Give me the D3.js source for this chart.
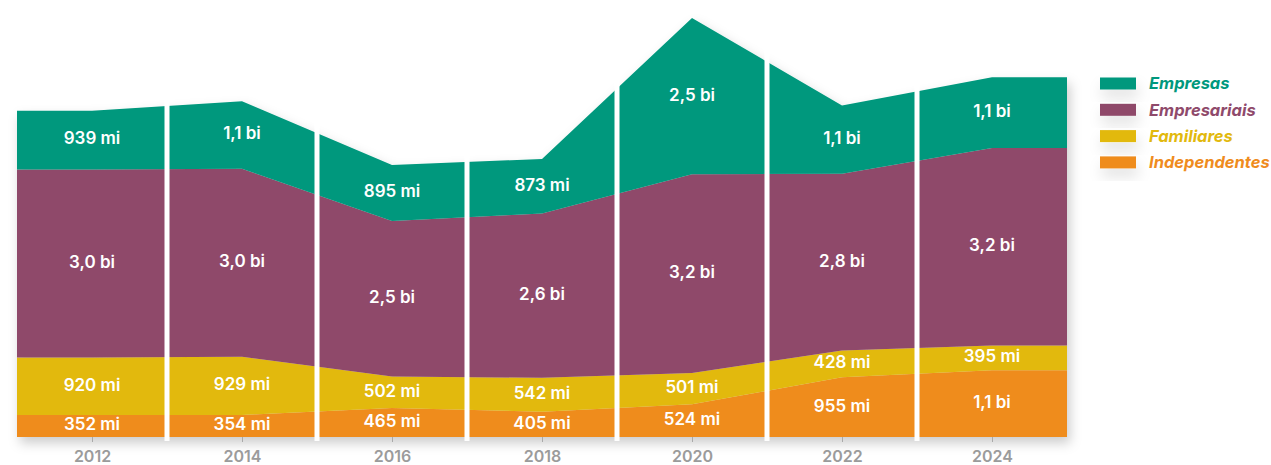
<!DOCTYPE html>
<html>
<head>
<meta charset="utf-8">
<script src="https://cdn.jsdelivr.net/npm/d3@7"></script>
<style>
  html, body { margin: 0; padding: 0; background: #fff; }
  svg { display: block; font-family: Inter, "Open Sans", sans-serif; }
</style>
</head>
<body>
<svg id="chart" width="1271" height="465"></svg>
<script>
// ---- data (values in millions) ----
const years = [2012, 2014, 2016, 2018, 2020, 2022, 2024];
const independentes = [352, 354, 465, 405, 524, 955, 1070];
const familiares    = [920, 929, 502, 542, 501, 428, 395];
const empresariais  = [3010, 3010, 2490, 2630, 3180, 2830, 3160];
const empresas      = [939, 1080, 895, 873, 2500, 1090, 1130];
const seriesNames = ["Independentes", "Familiares", "Empresariais", "Empresas"];
const seriesColors = ["#ef8c1e", "#e2b90e", "#8f4a6b", "#00987d"];
const legendOrder = ["Empresas", "Empresariais", "Familiares", "Independentes"];

const svg = d3.select("#chart");
const defs = svg.append("defs");
const f = defs.append("filter").attr("id", "shadow")
  .attr("x", "-10%").attr("y", "-10%").attr("width", "130%").attr("height", "130%");
f.append("feDropShadow").attr("dx", 3).attr("dy", 6).attr("stdDeviation", 6)
  .attr("flood-color", "#000").attr("flood-opacity", 0.2);
const f2 = defs.append("filter").attr("id", "lshadow")
  .attr("x", "-50%").attr("y", "-50%").attr("width", "200%").attr("height", "250%");
f2.append("feDropShadow").attr("dx", 2).attr("dy", 8).attr("stdDeviation", 7)
  .attr("flood-color", "#000").attr("flood-opacity", 0.12);

const x = d3.scaleLinear().domain([2011, 2025]).range([17, 1067]);
const y = d3.scaleLinear().domain([0, 6992]).range([437, 0]);

const rows = years.map((yr, i) => ({
  year: yr,
  Independentes: independentes[i],
  Familiares: familiares[i],
  Empresariais: empresariais[i],
  Empresas: empresas[i]
}));
// flat extension of the first/last value to the chart edges
const ext = [{ ...rows[0], year: 2011 }, ...rows, { ...rows[rows.length - 1], year: 2025 }];

const stack = d3.stack().keys(seriesNames);
const stackedExt = stack(ext);
const stacked = stack(rows);

const area = d3.area()
  .x(d => x(d.data.year))
  .y0(d => y(d[0]))
  .y1(d => y(d[1]));

const g = svg.append("g").attr("filter", "url(#shadow)");
g.selectAll("path").data(stackedExt).join("path")
  .attr("d", area)
  .attr("fill", (d, i) => seriesColors[i]);

// white separators at odd years
const gaps = d3.range(2013, 2024, 2);
svg.append("g").selectAll("rect").data(gaps).join("rect")
  .attr("x", d => x(d) - 2.5).attr("width", 5)
  .attr("y", 0).attr("height", 441)
  .attr("fill", "#fff");

// value labels
const fmt = v => v < 1000 ? `${v} mi` : `${(v / 1000).toFixed(1).replace(".", ",")} bi`;
const lab = svg.append("g");
stacked.forEach(s => {
  lab.selectAll(null).data(s).join("text")
    .attr("x", d => x(d.data.year))
    .attr("y", d => (y(d[0]) + y(d[1])) / 2 - 1.5)
    .attr("dy", "0.35em")
    .attr("text-anchor", "middle")
    .attr("fill", "#fff")
    .attr("font-size", 17)
    .attr("font-weight", 600)
    .text(d => fmt(d[1] - d[0]));
});

// x axis
const ax = svg.append("g").attr("transform", "translate(0,437)")
  .call(d3.axisBottom(x).tickValues(years).tickFormat(d3.format("d")).tickSize(5).tickPadding(9));
ax.select(".domain").remove();
ax.selectAll(".tick line").attr("stroke", "#aaa");
ax.selectAll(".tick text").attr("fill", "#9b9b9b").attr("font-size", 16)
  .attr("font-weight", 600).attr("font-family", "Inter, sans-serif");

// legend
const leg = svg.append("g");
legendOrder.forEach((name, i) => {
  const c = seriesColors[seriesNames.indexOf(name)];
  const cy = 83.5 + i * 26.3;
  leg.append("rect").attr("x", 1100).attr("y", cy - 6).attr("width", 36).attr("height", 12)
    .attr("fill", c).attr("filter", "url(#lshadow)");
  leg.append("text").attr("x", 1149).attr("y", cy).attr("dy", "0.36em")
    .attr("fill", c).attr("font-size", 16.5).attr("font-weight", 700)
    .attr("font-style", "italic").text(name);
});
</script>
</body>
</html>
